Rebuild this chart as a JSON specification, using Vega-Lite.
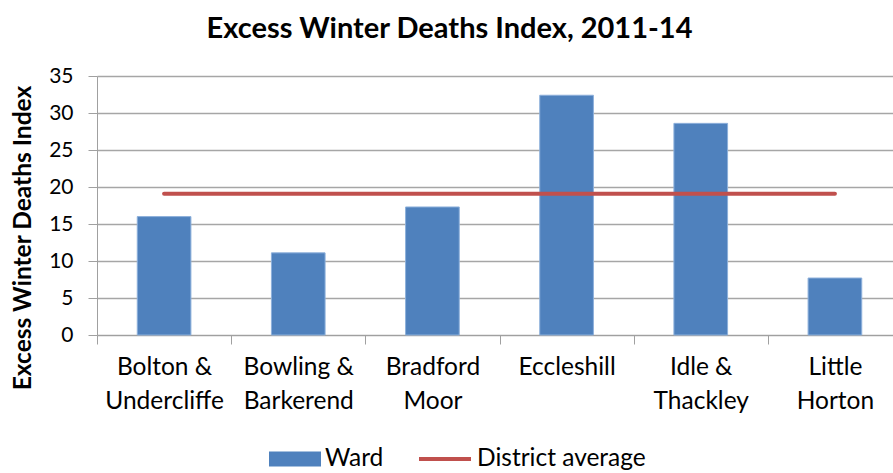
{
  "$schema": "https://vega.github.io/schema/vega-lite/v6.json",
  "autosize": {"type": "none"},
  "width": 805,
  "height": 259,
  "padding": {"left": 97, "top": 76, "right": 0, "bottom": 138},
  "background": "white",
  "title": {
    "text": "Excess Winter Deaths Index, 2011-14",
    "font": "Lato",
    "fontSize": 29,
    "fontWeight": "bold",
    "color": "#000000",
    "anchor": "middle",
    "dx": -50,
    "offset": 21
  },
  "data": {
    "values": [
      {"ward": "Bolton & Undercliffe", "index": 16.0, "average": 19.1},
      {"ward": "Bowling & Barkerend", "index": 11.1, "average": 19.1},
      {"ward": "Bradford Moor", "index": 17.3, "average": 19.1},
      {"ward": "Eccleshill", "index": 32.4, "average": 19.1},
      {"ward": "Idle & Thackley", "index": 28.6, "average": 19.1},
      {"ward": "Little Horton", "index": 7.7, "average": 19.1}
    ]
  },
  "encoding": {
    "x": {
      "field": "ward",
      "type": "nominal",
      "sort": null,
      "scale": {"paddingInner": 0, "paddingOuter": 0},
      "axis": {
        "title": null,
        "labelAngle": 0,
        "labelFont": "Lato",
        "labelFontSize": 24.5,
        "labelColor": "#000000",
        "labelLineHeight": 34,
        "labelBaseline": "top",
        "labelPadding": 11,
        "labelOverlap": false,
        "labelExpr": "lastindexof(datum.label, ' ') > 0 ? [substring(datum.label, 0, lastindexof(datum.label, ' ')), substring(datum.label, lastindexof(datum.label, ' ') + 1)] : datum.label",
        "tickBand": "extent",
        "tickSize": 9,
        "tickColor": "#A0A0A0",
        "domainColor": "#A0A0A0",
        "grid": false
      }
    }
  },
  "layer": [
    {
      "mark": {"type": "bar", "width": {"band": 0.4}, "stroke": "#8DB0DB", "strokeWidth": 1},
      "encoding": {
        "y": {
          "field": "index",
          "type": "quantitative",
          "scale": {"domain": [0, 35], "nice": false},
          "axis": {
            "title": "Excess Winter Deaths Index",
            "titleFont": "Lato",
            "titleFontSize": 24.5,
            "titleFontWeight": "bold",
            "titleColor": "#000000",
            "titleX": -67,
            "titleY": 161.5,
            "titleAngle": -90,
            "titleAlign": "center",
            "titleBaseline": "alphabetic",
            "values": [0, 5, 10, 15, 20, 25, 30, 35],
            "labelOverlap": false,
            "labelFont": "Lato",
            "labelFontSize": 21,
            "labelColor": "#000000",
            "labelPadding": 15,
            "tickSize": 9,
            "tickColor": "#A0A0A0",
            "domainColor": "#A0A0A0",
            "grid": true,
            "gridColor": "#A6A6A6",
            "gridWidth": 1.5
          }
        },
        "fill": {
          "datum": "Ward",
          "type": "nominal",
          "scale": {"domain": ["Ward"], "range": ["#4F81BD"]},
          "legend": {
            "title": null,
            "orient": "none",
            "legendX": 172,
            "legendY": 357,
            "labelFont": "Lato",
            "labelFontSize": 24.5,
            "labelColor": "#000000",
            "labelOffset": 4,
            "labelLimit": 400,
            "symbolSize": 2704,
            "symbolType": "M-1,-0.29H1V0.29H-1Z",
            "symbolStrokeWidth": 0
          }
        }
      }
    },
    {
      "mark": {"type": "line", "strokeWidth": 4, "strokeCap": "round"},
      "encoding": {
        "y": {
          "field": "average",
          "type": "quantitative",
          "axis": {"values": [0, 5, 10, 15, 20, 25, 30, 35], "labelOverlap": false}
        },
        "stroke": {
          "datum": "District average",
          "type": "nominal",
          "scale": {"domain": ["District average"], "range": ["#C0504D"]},
          "legend": {
            "title": null,
            "orient": "none",
            "legendX": 320,
            "legendY": 355,
            "labelFont": "Lato",
            "labelFontSize": 24.5,
            "labelColor": "#000000",
            "labelOffset": 4,
            "labelLimit": 400,
            "symbolSize": 2704,
            "symbolType": "stroke",
            "symbolStrokeWidth": 4
          }
        }
      }
    }
  ],
  "config": {
    "view": {"stroke": null}
  }
}
